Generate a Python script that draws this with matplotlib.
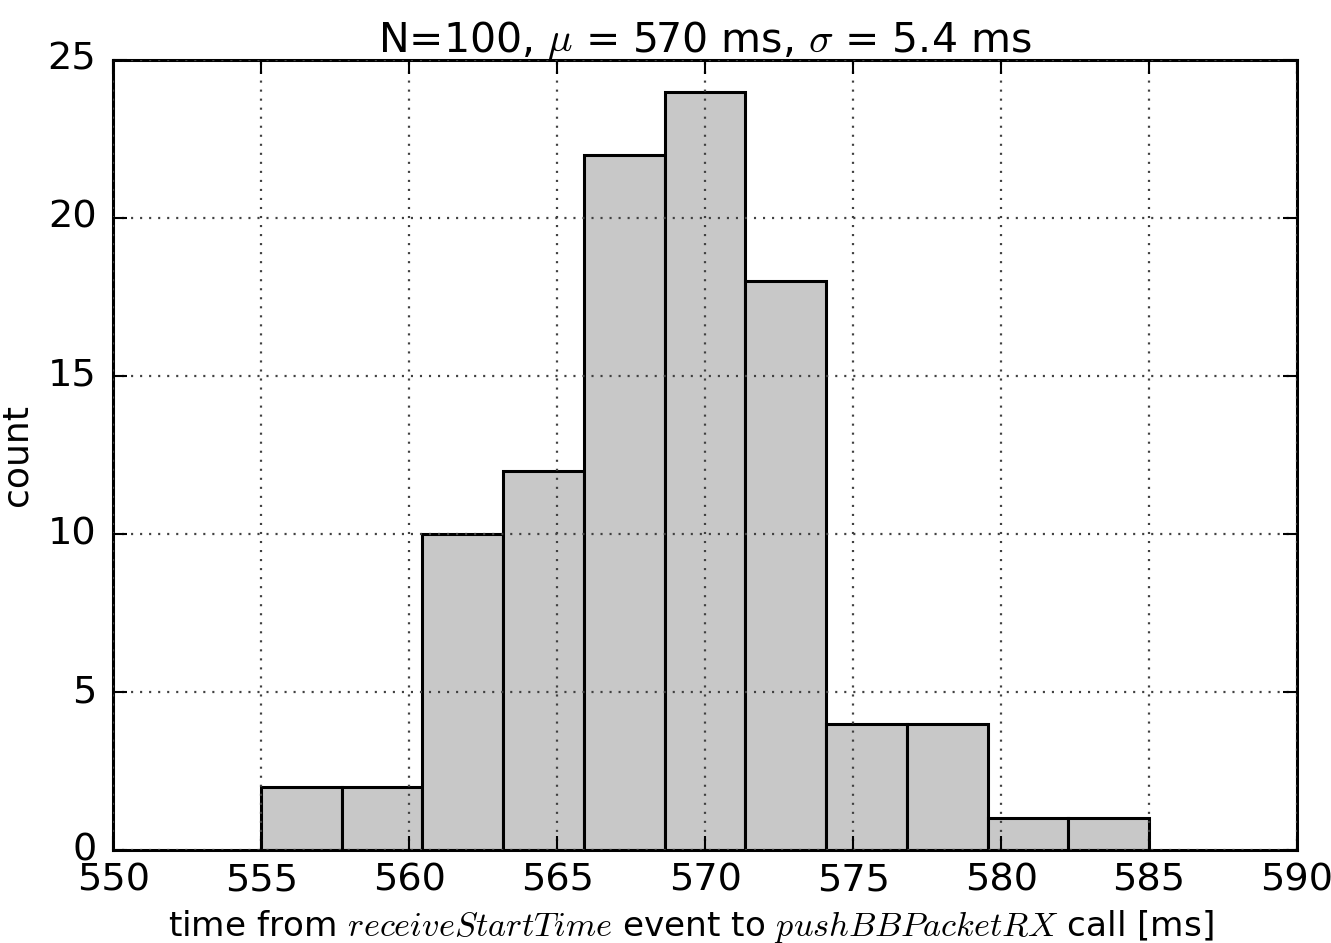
import numpy as np
import matplotlib
matplotlib.use("Agg")
import matplotlib.pyplot as plt

plt.style.use("classic")

# histogram
bin_edges = [555.0, 557.73, 560.45, 563.18, 565.91, 568.64, 571.36,
             574.09, 576.82, 579.55, 582.27, 585.0]
counts = [2, 2, 10, 12, 22, 24, 18, 4, 4, 1, 1]
xticks = [550, 555, 560, 565, 570, 575, 580, 585, 590]
yticks = [0, 5, 10, 15, 20, 25]

plt.rcParams["mathtext.fontset"] = "cm"
plt.rcParams["font.family"] = "DejaVu Sans"

fig = plt.figure(figsize=(13.31, 9.43), dpi=100, facecolor="white")
ax = fig.add_axes([0.085, 0.0986, 0.8895, 0.8378])

edges = np.array(bin_edges)
widths = np.diff(edges)
ax.bar(edges[:-1], counts, width=widths, align="edge",
       color="#c8c8c8", edgecolor="black", linewidth=2.2, zorder=1)

ax.set_xlim(550, 590)
ax.set_ylim(0, 25)
ax.set_xticks(xticks)
ax.set_yticks(yticks)
ax.grid(True, linestyle=(0, (1.5, 5)), color="0.25", linewidth=1.6)
ax.set_axisbelow(False)
for s in ax.spines.values():
    s.set_linewidth(2.2)
ax.tick_params(direction="in", length=10, width=1.5, labelsize=27.5,
               top=True, right=True, pad=9)
ax.tick_params(axis="y", pad=12)

ax.set_title(r"N=100, $\mu$ = 570 ms, $\sigma$ = 5.4 ms", fontsize=29.5, pad=6)
ax.set_xlabel(r"time from $receiveStartTime$ event to $pushBBPacketRX$ call [ms]",
              fontsize=24.7)
ax.xaxis.set_label_coords(0.488, -0.073)
ax.set_ylabel("count", fontsize=26, labelpad=10)

fig.savefig("out.png", dpi=100, facecolor="white")
